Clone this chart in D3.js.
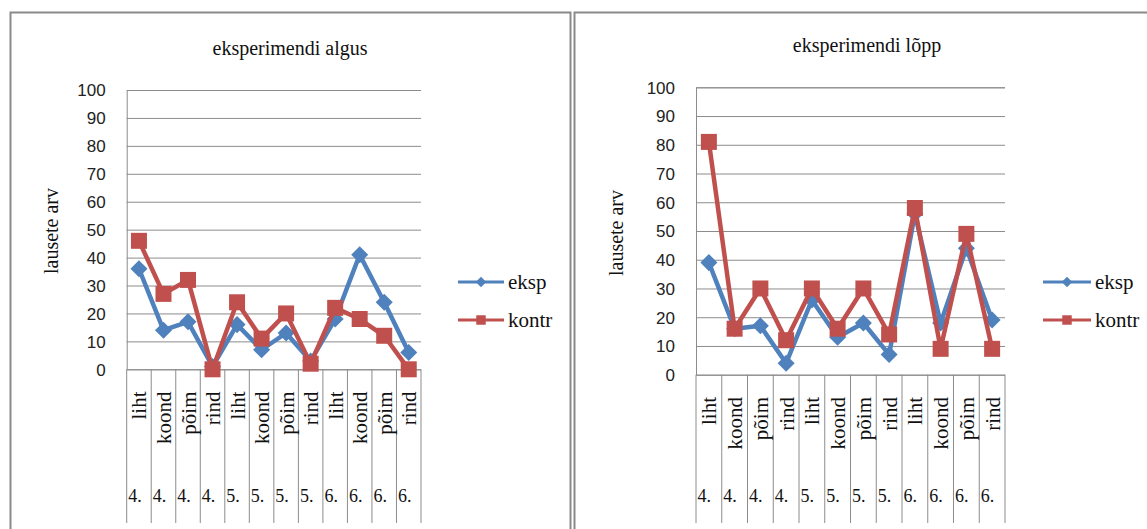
<!DOCTYPE html>
<html>
<head>
<meta charset="utf-8">
<script src="https://cdn.jsdelivr.net/npm/d3@7/dist/d3.min.js"></script>
<style>
  html, body { margin: 0; padding: 0; background: #ffffff; }
  svg { display: block; }
</style>
</head>
<body>
<svg id="chart" width="1147" height="529"></svg>
<script>
// Sentence types per grade (two-level category axis)
const sentenceTypes = ["liht", "koond", "põim", "rind", "liht", "koond", "põim", "rind", "liht", "koond", "põim", "rind"];
const gradeLabels = ["4.", "4.", "4.", "4.", "5.", "5.", "5.", "5.", "6.", "6.", "6.", "6."];
const yTicks = [0, 10, 20, 30, 40, 50, 60, 70, 80, 90, 100];
const seriesNames = ["eksp", "kontr"];

// Number of sentences at the start of the experiment
const algusEksp  = [36, 14, 17, 1, 16, 7, 13, 3, 18, 41, 24, 6];
const algusKontr = [46, 27, 32, 0, 24, 11, 20, 2, 22, 18, 12, 0];

// Number of sentences at the end of the experiment
const loppEksp  = [39, 16, 17, 4, 26, 13, 18, 7, 56, 18, 44, 19];
const loppKontr = [81, 16, 30, 12, 30, 16, 30, 14, 58, 9, 49, 9];

const colors = { eksp: "#4F81BD", kontr: "#C0504D" };
const gridColor = "#8c8c8c";
const frameColor = "#8a8a8a";
const serif = "'Liberation Serif', 'Times New Roman', serif";
const sans = "'Liberation Sans', Arial, sans-serif";

const svg = d3.select("#chart");

const panels = [
  {
    title: "eksperimendi algus",
    eksp: algusEksp, kontr: algusKontr,
    frame: { x0: 10.5, x1: 570.5, y0: 12.5 },
    plot: { left: 126.7, right: 421, top: 90, bottom: 369.3 },
    titleX: 290, titleY: 55,
    yTitleX: 51, yTitleY: 231,
    legendX: 458, legendLen: 46,
    labelTop: 391.5
  },
  {
    title: "eksperimendi lõpp",
    eksp: loppEksp, kontr: loppKontr,
    frame: { x0: 574.5, x1: 1160, y0: 12.5 },
    plot: { left: 696, right: 1005, top: 87.3, bottom: 374.7 },
    titleX: 867, titleY: 52,
    yTitleX: 616, yTitleY: 233,
    legendX: 1043, legendLen: 48,
    labelTop: 397
  }
];

const marker = d3.symbol().type(d3.symbolSquare);

panels.forEach(p => {
  const g = svg.append("g");

  // Panel frame (extends past the bottom edge)
  g.append("path")
    .attr("d", `M${p.frame.x0},560 L${p.frame.x0},${p.frame.y0} L${p.frame.x1},${p.frame.y0} L${p.frame.x1},560`)
    .attr("fill", "none")
    .attr("stroke", frameColor)
    .attr("stroke-width", 2);

  const x = d3.scaleBand()
    .domain(d3.range(sentenceTypes.length))
    .range([p.plot.left, p.plot.right])
    .padding(0);
  const y = d3.scaleLinear()
    .domain([0, 100])
    .range([p.plot.bottom, p.plot.top]);
  const cx = i => x(i) + x.bandwidth() / 2;

  // Horizontal gridlines and y tick labels
  const yAxis = d3.axisLeft(y)
    .tickValues(yTicks)
    .tickSize(-(p.plot.right - p.plot.left))
    .tickPadding(21)
    .tickFormat(d3.format("d"));
  const ya = g.append("g")
    .attr("transform", `translate(${p.plot.left},0)`)
    .call(yAxis);
  ya.select(".domain").attr("stroke", gridColor).attr("stroke-width", 1);
  ya.selectAll(".tick line").attr("stroke", gridColor).attr("stroke-width", 1);
  ya.selectAll(".tick text")
    .attr("font-family", sans)
    .attr("font-size", 17)
    .attr("fill", "#222")
    .attr("dy", "0.35em");

  // Category separators below the axis
  const bounds = d3.range(sentenceTypes.length + 1).map(i => i < sentenceTypes.length ? x(i) : p.plot.right);
  g.append("g").selectAll("line")
    .data(bounds)
    .join("line")
    .attr("x1", d => d).attr("x2", d => d)
    .attr("y1", p.plot.bottom).attr("y2", 523)
    .attr("stroke", gridColor)
    .attr("stroke-width", 1);

  // Sentence type labels (rotated)
  g.append("g").selectAll("text")
    .data(sentenceTypes)
    .join("text")
    .attr("transform", (d, i) => `translate(${cx(i) + 7.5},${p.labelTop}) rotate(-90)`)
    .attr("text-anchor", "end")
    .attr("font-family", serif)
    .attr("font-size", 21)
    .attr("fill", "#111")
    .text(d => d);

  // Grade labels
  g.append("g").selectAll("text")
    .data(gradeLabels)
    .join("text")
    .attr("x", (d, i) => x(i) + 1.5)
    .attr("y", 502)
    .attr("font-family", serif)
    .attr("font-size", 18)
    .attr("fill", "#111")
    .text(d => d);

  // Series lines and markers
  const line = d3.line().x((d, i) => cx(i)).y(d => y(d));
  seriesNames.forEach(name => {
    const vals = p[name];
    g.append("path")
      .datum(vals)
      .attr("d", line)
      .attr("fill", "none")
      .attr("stroke", colors[name])
      .attr("stroke-width", 4.5)
      .attr("stroke-linejoin", "round");
    const mk = g.append("g").selectAll("path")
      .data(vals)
      .join("path")
      .attr("fill", colors[name]);
    if (name === "eksp") {
      mk.attr("d", marker.size(145)())
        .attr("transform", (d, i) => `translate(${cx(i)},${y(d)}) rotate(45)`);
    } else {
      mk.attr("d", marker.size(256)())
        .attr("transform", (d, i) => `translate(${cx(i)},${y(d)})`);
    }
  });

  // Title
  g.append("text")
    .attr("x", p.titleX).attr("y", p.titleY)
    .attr("text-anchor", "middle")
    .attr("font-family", serif)
    .attr("font-size", 20)
    .attr("fill", "#111")
    .text(p.title);

  // Y axis title
  g.append("text")
    .attr("transform", `translate(${p.yTitleX},${p.yTitleY}) rotate(-90)`)
    .attr("text-anchor", "middle")
    .attr("dy", "0.35em")
    .attr("font-family", serif)
    .attr("font-size", 20)
    .attr("fill", "#111")
    .text("lausete arv");

  // Legend
  const legendRows = [282, 320];
  seriesNames.forEach((name, k) => {
    const ly = legendRows[k];
    const lg = g.append("g");
    lg.append("line")
      .attr("x1", p.legendX).attr("x2", p.legendX + p.legendLen)
      .attr("y1", ly).attr("y2", ly)
      .attr("stroke", colors[name])
      .attr("stroke-width", 3);
    const mx = p.legendX + p.legendLen / 2;
    if (name === "eksp") {
      lg.append("path")
        .attr("d", marker.size(55)())
        .attr("transform", `translate(${mx},${ly}) rotate(45)`)
        .attr("fill", colors[name]);
    } else {
      lg.append("path")
        .attr("d", marker.size(90)())
        .attr("transform", `translate(${mx},${ly})`)
        .attr("fill", colors[name]);
    }
    lg.append("text")
      .attr("x", p.legendX + p.legendLen + 4)
      .attr("y", ly + 7)
      .attr("font-family", serif)
      .attr("font-size", 21)
      .attr("fill", "#111")
      .text(name);
  });
});
</script>
</body>
</html>
